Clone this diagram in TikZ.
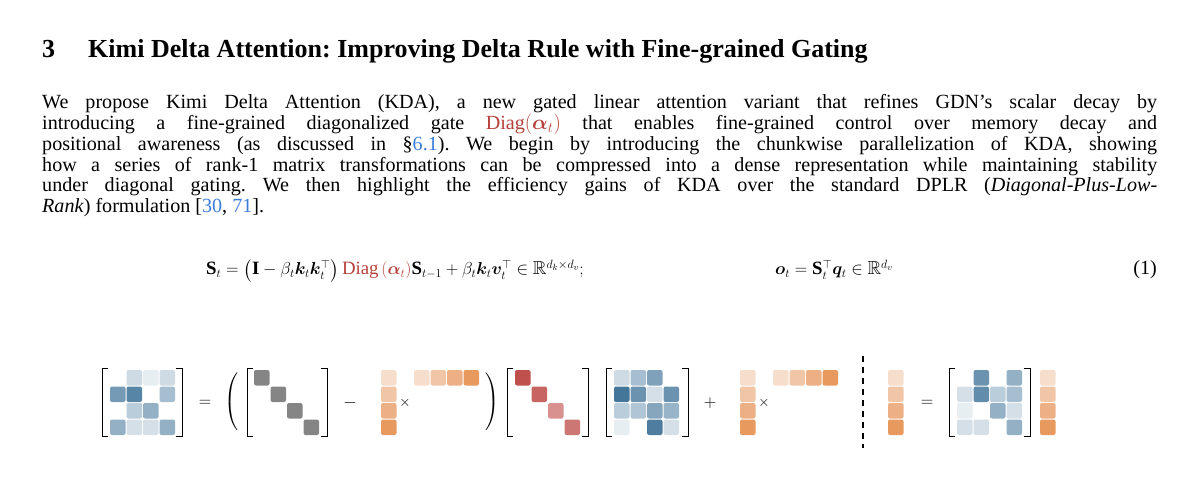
\documentclass[tikz,border=0pt]{standalone}
\usepackage{amsmath,amssymb,bm}
\usepackage{fontspec}
\setmainfont{Liberation Serif}
\frenchspacing
\definecolor{kb}{HTML}{3A6F95}
\definecolor{kg}{HTML}{858585}
\definecolor{o1}{HTML}{F6DECD}
\definecolor{o2}{HTML}{F1C6A6}
\definecolor{o3}{HTML}{EDB084}
\definecolor{o4}{HTML}{E8995E}
\definecolor{r1}{HTML}{C0504D}
\definecolor{r2}{HTML}{C76562}
\definecolor{r3}{HTML}{D9918F}
\definecolor{r4}{HTML}{CC7774}
\definecolor{dred}{HTML}{B5403A}
\definecolor{lnk}{HTML}{3B7DD8}
\newcommand{\kcell}[3]{\fill[#3,rounded corners=2pt] (#1,#2) rectangle ++(15.5,15.5);}
\newcommand{\kbrack}[4]{% xl xr top bottom
  \draw[line width=1pt] (#1+6,#3) -- (#1,#3) -- (#1,#4) -- (#1+6,#4);
  \draw[line width=1pt] (#2-6,#3) -- (#2,#3) -- (#2,#4) -- (#2-6,#4);}
\newcommand{\kblue}[2]{% x0, list of col/row/alpha
  \foreach \c/\r/\a in {#2}{\kcell{#1+\c*16.5}{370+\r*16.5}{kb!\a!white}}}
\newcommand{\kcol}[1]{\kcell{#1}{370}{o1}\kcell{#1}{386.5}{o2}\kcell{#1}{403}{o3}\kcell{#1}{419.5}{o4}}
\newcommand{\krow}[1]{\kcell{#1}{370}{o1}\kcell{#1+16.5}{370}{o2}\kcell{#1+33}{370}{o3}\kcell{#1+49.5}{370}{o4}}
\begin{document}
\begin{tikzpicture}[x=1pt,y=-1pt]
\useasboundingbox (0,0) rectangle (1199,486);
% title
\node[anchor=base west,inner sep=0,font=\fontsize{26}{30}\selectfont\bfseries] (num) at (42,58) {3};
\node[anchor=base west,inner sep=0,font=\fontsize{26}{30}\selectfont\bfseries] (title) at (88,58) {Kimi Delta Attention: Improving Delta Rule with Fine-grained Gating};
% paragraph
\node[anchor=north west,inner sep=0,text width=1115pt,align=justify,font=\fontsize{20.1}{20.9}\selectfont] (para) at (42,94) {We propose Kimi Delta Attention (KDA), a new gated linear attention variant that refines GDN’s scalar decay by\linebreak
introducing a fine-grained diagonalized gate \textcolor{dred}{Diag$(\bm{\alpha}_t)$} that enables fine-grained control over memory decay and\linebreak
positional awareness (as discussed in §\textcolor{lnk}{6.1}). We begin by introducing the chunkwise parallelization of KDA, showing\linebreak
how a series of rank-1 matrix transformations can be compressed into a dense representation while maintaining stability\linebreak
under diagonal gating. We then highlight the efficiency gains of KDA over the standard DPLR (\textit{Diagonal-Plus-Low-}\linebreak
\textit{Rank}) formulation [\textcolor{lnk}{30}, \textcolor{lnk}{71}].};
% equation
\node[anchor=base west,inner sep=0,font=\fontsize{18.8}{20.8}\selectfont] (eq1) at (206,275) {$\mathbf{S}_t=\bigl(\mathbf{I}-\beta_t\bm{k}_t\bm{k}_t^{\top}\bigr)\,\textcolor{dred}{\mathrm{Diag}\left(\bm{\alpha}_t\right)}\mathbf{S}_{t-1}+\beta_t\bm{k}_t\bm{v}_t^{\top}\in\mathbb{R}^{d_k\times d_v};$};
\node[anchor=base west,inner sep=0,font=\fontsize{18.8}{20.8}\selectfont] (eq2) at (775,275) {$\bm{o}_t=\mathbf{S}_t^{\top}\bm{q}_t\in\mathbb{R}^{d_v}$};
\node[anchor=base east,inner sep=0,font=\fontsize{20.1}{20.8}\selectfont] (eqn) at (1157,275) {(1)};
% figure
\kbrack{102}{182}{368}{436}
\kblue{110}{1/0/25,2/0/12,3/0/25,0/1/70,1/1/85,3/1/45,1/2/35,2/2/55,0/3/55,1/3/22,2/3/22,3/3/55}
\node[font=\fontsize{16}{16}\selectfont] (eqa) at (205,403) {$=$};
\node[font=\fontsize{16}{16}\selectfont,scale=1] (lp) at (232,402) {$\left(\vphantom{\rule{0pt}{33pt}}\right.$};
\kbrack{247}{327}{368}{436}
\foreach \i in {0,...,3}{\kcell{254+\i*16.5}{370+\i*16.5}{kg}}
\node[font=\fontsize{16}{16}\selectfont] (mi) at (350,403) {$-$};
\kcol{381}
\node[font=\fontsize{14}{14}\selectfont] (x1) at (405,403) {$\times$};
\krow{414}
\node[font=\fontsize{16}{16}\selectfont] (rp) at (492,402) {$\left.\vphantom{\rule{0pt}{33pt}}\right)$};
\kbrack{507}{588}{368}{436}
\kcell{515}{370}{r1}\kcell{531.5}{386.5}{r2}\kcell{548}{403}{r3}\kcell{564.5}{419.5}{r4}
\kbrack{606}{688}{368}{436}
\kblue{614}{0/0/25,1/0/45,2/0/65,0/1/95,1/1/75,2/1/22,3/1/75,0/2/35,1/2/40,2/2/62,3/2/52,0/3/12,2/3/90,3/3/22}
\node[font=\fontsize{16}{16}\selectfont] (pl) at (710,403) {$+$};
\kcol{740}
\node[font=\fontsize{14}{14}\selectfont] (x2) at (764,403) {$\times$};
\krow{773}
\draw[dashed,line width=1.1pt,dash pattern=on 6pt off 5pt] (863,356) -- (863,448);
\kcol{888}
\node[font=\fontsize{16}{16}\selectfont] (eqb) at (927,403) {$=$};
\kbrack{949}{1030}{368}{436}
\kblue{957}{1/0/75,3/0/55,0/1/22,1/1/80,2/1/35,3/1/45,0/2/12,2/2/55,3/2/22,0/3/22,1/3/22,3/3/55}
\kcol{1040}
\end{tikzpicture}
\end{document}
